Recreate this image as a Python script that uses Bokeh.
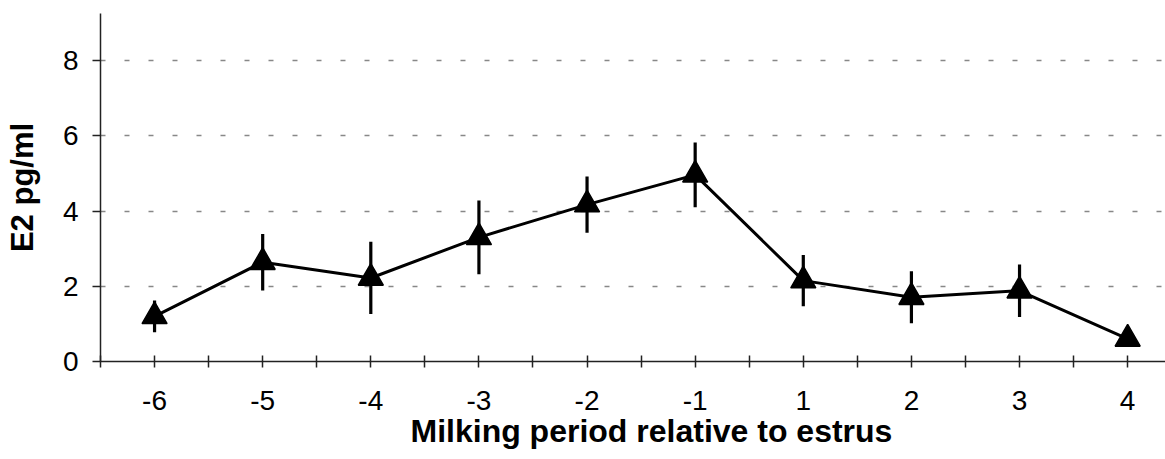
from bokeh.plotting import figure
from bokeh.models import FixedTicker, Range1d, ColumnDataSource, Title
from bokeh.embed import file_html
from bokeh.resources import INLINE

# ---- data ----
periods = ["-6", "-5", "-4", "-3", "-2", "-1", "1", "2", "3", "4"]
e2_mean = [1.20, 2.64, 2.22, 3.30, 4.17, 4.96, 2.15, 1.71, 1.88, 0.60]
e2_sem = [0.42, 0.75, 0.96, 0.98, 0.75, 0.86, 0.68, 0.69, 0.70, 0.15]
y_ticks = [0, 2, 4, 6, 8]
x_title = "Milking period relative to estrus"
y_title = "E2 pg/ml"

xpos = list(range(len(periods)))
lower = [m - e for m, e in zip(e2_mean, e2_sem)]
upper = [m + e for m, e in zip(e2_mean, e2_sem)]
src = ColumnDataSource(dict(x=xpos, y=e2_mean, lo=lower, hi=upper, lab=periods))

FONT = "Liberation Sans"

p = figure(width=1165, height=459, output_backend="svg", toolbar_location=None,
           x_range=Range1d(-0.5, 9.35), y_range=Range1d(0, 9.25),
           min_border_left=100, min_border_right=0, min_border_top=13, min_border_bottom=98)
p.outline_line_color = None
p.background_fill_color = "white"
p.border_fill_color = "white"

# error bars, line, markers
p.segment(x0="x", y0="lo", x1="x", y1="hi", source=src, line_color="black", line_width=3.2)
p.line(x="x", y="y", source=src, line_color="black", line_width=3)
p.scatter(x="x", y="y", source=src, marker="triangle", size=25,
          fill_color="black", line_color="black", line_width=1.5)

# x axis: ticks at categories and boundaries
half_ticks = [i * 0.5 - 0.5 for i in range(2 * len(periods) + 1)]
p.xaxis.ticker = FixedTicker(ticks=half_ticks)
overrides = {}
for t in half_ticks:
    if abs(t - round(t)) < 1e-9 and 0 <= round(t) < len(periods):
        overrides[t] = periods[int(round(t))]
    else:
        overrides[t] = ""
p.xaxis.major_label_overrides = overrides
p.xaxis.minor_tick_line_color = None
p.xaxis.major_tick_in = 6
p.xaxis.major_tick_out = 6
p.xaxis.major_label_standoff = 23

p.yaxis.ticker = FixedTicker(ticks=y_ticks)
p.yaxis.minor_tick_line_color = None
p.yaxis.major_tick_in = 0
p.yaxis.major_tick_out = 8
p.yaxis.major_label_standoff = 14
p.yaxis.axis_label = y_title
p.yaxis.axis_label_standoff = 20

for ax in (p.xaxis, p.yaxis):
    ax.axis_line_color = "#222222"
    ax.axis_line_width = 1.5
    ax.major_tick_line_color = "#222222"
    ax.major_tick_line_width = 1.5
    ax.major_label_text_font = FONT
    ax.major_label_text_font_size = "28px"
    ax.major_label_text_color = "black"
    ax.axis_label_text_font = FONT
    ax.axis_label_text_font_style = "bold"
    ax.axis_label_text_color = "black"
p.yaxis.axis_label_text_font_size = "31px"

# x axis title as a bottom title panel, shifted to match the reference
p.add_layout(Title(text=x_title, align="left", offset=310, vertical_align="top", standoff=0,
                   text_font=FONT, text_font_size="32px", text_font_style="bold",
                   text_color="black"), "below")

p.xgrid.visible = False
p.ygrid.grid_line_color = "#888888"
p.ygrid.grid_line_dash = "5 19"
p.ygrid.grid_line_width = 1.3

open("out.html", "w").write(file_html(p, INLINE))
